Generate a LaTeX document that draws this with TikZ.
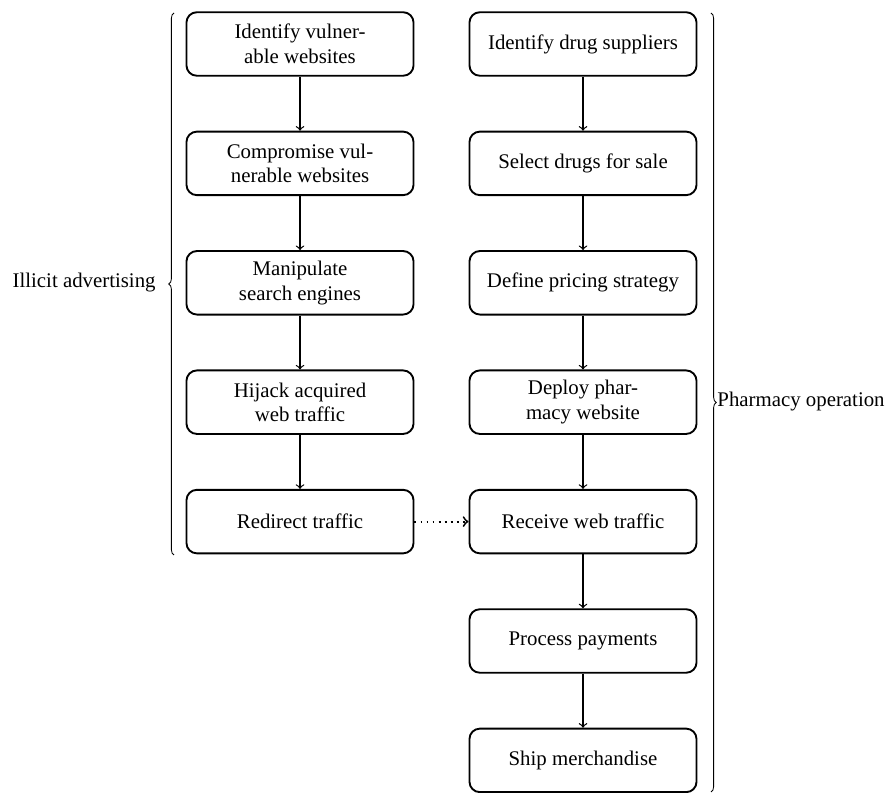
\documentclass[tikz,border=0pt]{standalone}
\usepackage{fontspec}
\setmainfont{Liberation Serif}
\usetikzlibrary{decorations.pathreplacing}
\begin{document}
\begin{tikzpicture}[x=0.48pt,y=-0.48pt,
  box/.style={draw, line width=0.9pt, rounded corners=5pt, minimum width=109pt,
    minimum height=30.5pt, align=center, inner sep=2pt,
    font=\fontsize{10}{11.8}\selectfont},
  flow/.style={->, line width=0.6pt},
  link/.style={->, line width=0.9pt, dotted},
  bracestyle/.style={decorate, decoration={brace, amplitude=2.5pt}, line width=0.4pt},
  lbl/.style={inner sep=0pt, font=\fontsize{10}{12}\selectfont}]
\useasboundingbox (0,0) rectangle (890,793);
% left column
\node[box] (a1) at (300,44) {Identify vulner-\\able websites};
\node[box] (a2) at (300,163.4) {Compromise vul-\\nerable websites};
\node[box] (a3) at (300,282.8) {Manipulate\\search engines};
\node[box] (a4) at (300,402.2) {Hijack acquired\\web traffic};
\node[box] (a5) at (300,521.6) {Redirect traffic};
% right column
\node[box] (b1) at (583,44) {Identify drug suppliers};
\node[box] (b2) at (583,163.4) {Select drugs for sale};
\node[box] (b3) at (583,282.8) {Define pricing strategy};
\node[box] (b4) at (583,402.2) {Deploy phar-\\macy website};
\node[box] (b5) at (583,521.6) {Receive web traffic};
\node[box] (b6) at (583,641) {Process payments};
\node[box] (b7) at (583,760.4) {Ship merchandise};
% connectors
\draw[flow] (a1) -- (a2);
\draw[flow] (a2) -- (a3);
\draw[flow] (a3) -- (a4);
\draw[flow] (a4) -- (a5);
\draw[flow] (b1) -- (b2);
\draw[flow] (b2) -- (b3);
\draw[flow] (b3) -- (b4);
\draw[flow] (b4) -- (b5);
\draw[flow] (b5) -- (b6);
\draw[flow] (b6) -- (b7);
\draw[link] (a5) -- (b5);
% braces
\coordinate (lbB) at (174,555);
\coordinate (lbT) at (174,13);
\coordinate (rbT) at (711,13);
\coordinate (rbB) at (711,792);
\draw[bracestyle] (lbB) -- (lbT);
\draw[bracestyle] (rbT) -- (rbB);
\node[lbl, anchor=east] (ia) at (156,283) {Illicit advertising};
\node[lbl, anchor=west] (po) at (717,402) {Pharmacy operation};
\end{tikzpicture}
\end{document}
